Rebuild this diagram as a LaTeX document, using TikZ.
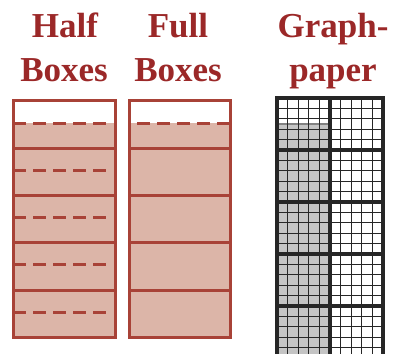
\documentclass[tikz,border=0pt]{standalone}
\usepackage{fontspec}
\setmainfont{Liberation Serif}
\definecolor{boxline}{RGB}{168,66,55}
\definecolor{boxfill}{RGB}{220,181,168}
\definecolor{titlec}{RGB}{155,40,40}
\definecolor{gridc}{RGB}{38,38,38}
\definecolor{shadec}{RGB}{196,196,196}
\definecolor{shadeedge}{RGB}{130,130,130}
\tikzset{
  titletext/.style={text=titlec, font=\bfseries\fontsize{35}{42}\selectfont, anchor=base, inner sep=0pt},
  boxedge/.style={draw=boxline, line width=3pt},
  dashline/.style={draw=boxline, line width=3pt, dash pattern=on 13pt off 7pt},
  fineline/.style={draw=gridc, line width=1.1pt},
  thickline/.style={draw=gridc, line width=3.5pt},
}
\begin{document}
\begin{tikzpicture}[x=1pt,y=-1pt]
\useasboundingbox (0,0) rectangle (401,354);
% titles
\node[titletext] (t1a) at (65,37) {Half};
\node[titletext] (t1b) at (64,81) {Boxes};
\node[titletext] (t2a) at (178,37) {Full};
\node[titletext] (t2b) at (178,81) {Boxes};
\node[titletext] (t3a) at (333,37) {Graph-};
\node[titletext] (t3b) at (333,81) {paper};
% Half boxes
\fill[boxfill] (13,123) rectangle (115,337);
\foreach \y in {148,195,242,290} \draw[boxedge] (13,\y) -- (115,\y);
\foreach \y in {123,170,217,264,312} \draw[dashline] (13,\y) -- (106,\y);
\draw[boxedge] (13,100) rectangle (115,337);
% Full boxes
\fill[boxfill] (129,123) rectangle (230,337);
\foreach \y in {148,195,242,290} \draw[boxedge] (129,\y) -- (230,\y);
\draw[dashline] (137,123) -- (230,123);
\draw[boxedge] (129,100) rectangle (230,337);
% Graph paper
\fill[shadec] (277,124) rectangle (329,354);
\draw[shadeedge, line width=1.8pt] (277,124) -- (328.5,124) -- (328.5,354);
\foreach \i in {0,...,10} \draw[fineline] ({277+\i*10.6},98) -- ({277+\i*10.6},354);
\foreach \j in {0,...,24} \draw[fineline] (277,{98+\j*10.4}) -- (383,{98+\j*10.4});
\foreach \y in {98,150,202,254,306} \draw[thickline] (277,\y) -- (383,\y);
\foreach \x in {277,330,383} \draw[thickline] (\x,96.25) -- (\x,354);
\end{tikzpicture}
\end{document}
